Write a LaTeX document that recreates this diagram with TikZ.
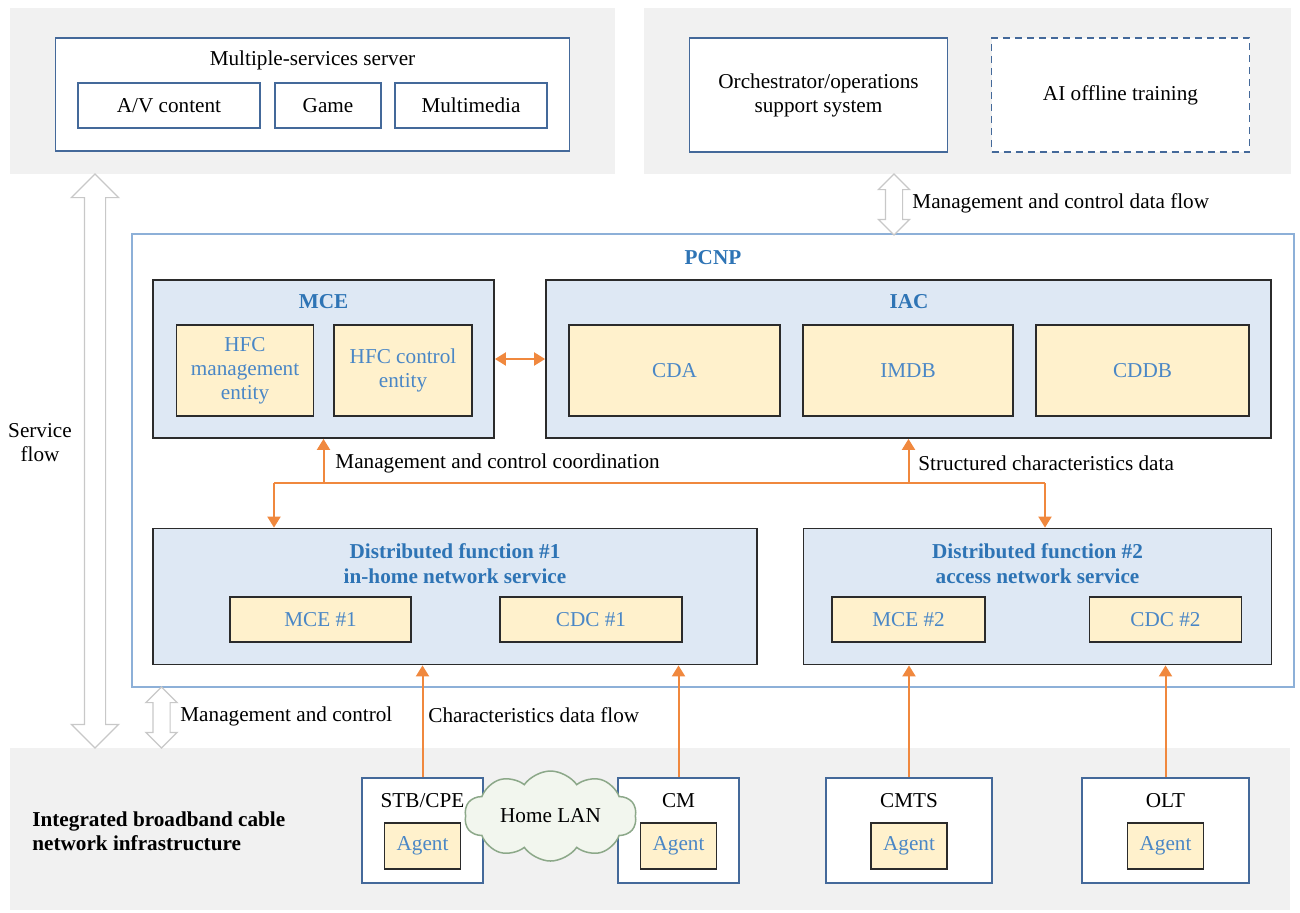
\documentclass[tikz,border=0pt]{standalone}
\usepackage{fontspec}
\setmainfont{Liberation Serif}
\usetikzlibrary{calc}
\usetikzlibrary{arrows.meta}
\usetikzlibrary{shapes.arrows,shapes.symbols}
\usepackage{xcolor}
\definecolor{panelgray}{HTML}{F1F1F1}
\definecolor{bordblue}{HTML}{44699A}
\definecolor{pcnpblue}{HTML}{8DB0D8}
\definecolor{fillblue}{HTML}{DEE8F4}
\definecolor{fillyel}{HTML}{FFF1CC}
\definecolor{boxdark}{HTML}{2B2B2B}
\definecolor{ttlblue}{HTML}{2E74B5}
\definecolor{lbltxt}{HTML}{4A87C6}
\definecolor{orng}{HTML}{F0883E}
\definecolor{hgray}{HTML}{C8C8C8}
\definecolor{cloudfill}{HTML}{F2F6EE}
\definecolor{clouddraw}{HTML}{8CA889}

\begin{document}
\begin{tikzpicture}[x=.5pt, y=-.5pt,
 every node/.style={font=\fontsize{10.6}{12}\selectfont, inner sep=0},
 wh/.style 2 args={minimum width=#1*.5pt, minimum height=#2*.5pt},
 panel/.style={fill=panelgray},
 obox/.style={draw=bordblue, fill=white, line width=.75pt, align=center},
 cbox/.style={draw=boxdark, fill=fillblue, line width=.9pt},
 ybox/.style={draw=boxdark, fill=fillyel, line width=.9pt, text=lbltxt, align=center},
 ttl/.style={text=ttlblue, font=\fontsize{10.6}{12.5}\selectfont\bfseries, align=center},
 flow/.style={draw=orng, line width=1pt, >={Triangle[length=5.5pt,width=6.5pt]}},
 hollow/.style={double arrow, draw=hgray, fill=white, line width=.6pt, rotate=90,
   inner xsep=0, double arrow tip angle=90}]
\useasboundingbox (0,0) rectangle (1300,912);

\node[panel, wh={605}{166}] (srvpanel) at (312.5,91) {};
\node[panel, wh={647}{166}] (mgtpanel) at (967.5,91) {};
\node[panel, wh={1280}{162}] (infpanel) at (650,829) {};

\node[obox, wh={514}{113}] (mss) at (312.5,94.5) {};
\node (mss-t) at (312.5,60) {Multiple-services server};
\node[obox, wh={182}{45}] (av) at (169,105.5) {A/V content};
\node[obox, wh={106}{45}] (game) at (328,105.5) {Game};
\node[obox, wh={152}{45}] (mm) at (471,105.5) {Multimedia};

\node[obox, wh={258}{114}] (oss) at (818.5,95) {Orchestrator/operations\\support system};
\node[obox, dash pattern=on 3.5pt off 2.5pt, wh={258}{114}] (ai) at (1120.5,95) {AI offline training};

\node[draw=pcnpblue, line width=.75pt, wh={1162}{453}] (pcnp) at (713,460.5) {};
\node[ttl] (pcnp-t) at (713,258) {PCNP};

\node[cbox, wh={341}{158}] (mce) at (323.5,359) {};
\node[ttl] (mce-t) at (323.5,302) {MCE};
\node[ybox, wh={137}{91}] (hfcm) at (245,370.5) {HFC\\management\\entity};
\node[ybox, wh={138}{91}] (hfcc) at (403,370.5) {HFC control\\entity};

\node[cbox, wh={725}{158}] (iac) at (908.5,359) {};
\node[ttl] (iac-t) at (909,302) {IAC};
\node[ybox, wh={211}{91}] (cda) at (674.5,370.5) {CDA};
\node[ybox, wh={210}{91}] (imdb) at (908,370.5) {IMDB};
\node[ybox, wh={213}{91}] (cddb) at (1142.5,370.5) {CDDB};

\node[cbox, wh={604}{136}] (df1) at (455,596.5) {};
\node[ttl] (df1-t) at (455,563.5) {Distributed function \#1\\in-home network service};
\node[ybox, wh={181}{45}] (mce1) at (320.5,619.5) {MCE \#1};
\node[ybox, wh={182}{45}] (cdc1) at (591,619.5) {CDC \#1};

\node[cbox, wh={468}{136}] (df2) at (1037.5,596.5) {};
\node[ttl] (df2-t) at (1037.5,563.5) {Distributed function \#2\\access network service};
\node[ybox, wh={153}{45}] (mce2) at (908.5,619.5) {MCE \#2};
\node[ybox, wh={152}{45}] (cdc2) at (1165.5,619.5) {CDC \#2};

\foreach \n/\x/\w/\t in {stb/422.5/121/STB\slash CPE, cm/678.5/121/CM, cmts/909/166/CMTS, olt/1165.5/167/OLT} {
 \node[obox, wh={\w}{105}] (\n) at (\x,830.5) {};
 \node (\n-t) at (\x,801) {\t};
 \node[ybox, wh={76}{46}] (\n-a) at (\x,846) {Agent};
}
\node[cloud, cloud puffs=10, cloud puff arc=110, cloud ignores aspect, draw=clouddraw, fill=cloudfill,
 line width=.75pt, wh={172}{90}] (lan) at (550.5,816) {Home LAN};

\node[hollow, inner ysep=5pt, double arrow head extend=6.5pt, minimum height=287pt] (svcflow) at (95,461) {};
\node[hollow, inner ysep=4pt, double arrow head extend=3.5pt, minimum height=30.5pt] (mcflow) at (894,204.5) {};
\node[hollow, inner ysep=4pt, double arrow head extend=3.5pt, minimum height=30.5pt] (mcbot) at (161.5,717.5) {};

\coordinate (j1) at (274,483);
\coordinate (j2) at (1045,483);
\draw[flow] (j1) -- (j2);
\draw[flow, ->] (j1) -- (j1 |- df1.north);
\draw[flow, ->] (j2) -- (j2 |- df2.north);
\draw[flow, ->] (mce.south |- j1) -- (mce.south);
\draw[flow, ->] (iac.south |- j1) -- (iac.south);
\draw[flow, <->] (mce.east) -- (iac.west);
\foreach \n/\d in {stb/df1, cm/df1, cmts/df2, olt/df2}
 \draw[flow, ->] (\n.north) -- (\n.north |- \d.south);

\node[anchor=west] (mcflow-l) at (912,203) {Management and control data flow};
\node[anchor=west] (coord-l) at (335,463) {Management and control coordination};
\node[anchor=west] (struct-l) at (918,463) {Structured characteristics data};
\node[anchor=west] (mcbot-l) at (180,716) {Management and control};
\node[anchor=west] (char-l) at (428,715) {Characteristics data flow};
\node[align=center] (svc-l) at (40,443) {Service\\flow};
\node[anchor=west, align=left, font=\fontsize{10.6}{12}\selectfont\bfseries] (inf-l) at (32,831) {Integrated broadband cable\\network infrastructure};
\end{tikzpicture}
\end{document}
